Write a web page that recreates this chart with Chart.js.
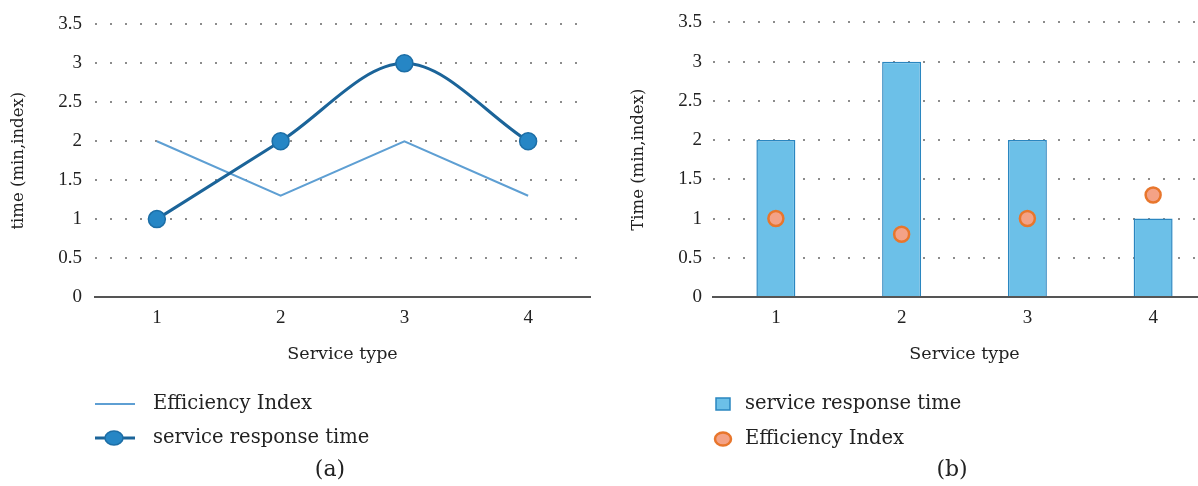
<!DOCTYPE html>
<html>
<head>
<meta charset="utf-8">
<script src="https://cdn.jsdelivr.net/npm/chart.js@4/dist/chart.umd.min.js"></script>
<style>
  html, body { margin: 0; padding: 0; background: #fff; overflow: hidden; }
  body { width: 1198px; height: 486px; position: relative; }
  canvas { position: absolute; top: 0; }
  #chartA { left: 0; }
  #chartB { left: 620px; }
</style>
</head>
<body>
<canvas id="chartA" width="600" height="486"></canvas>
<canvas id="chartB" width="606" height="486"></canvas>
<script>
// Service types on the x axis
const serviceTypes = ['1', '2', '3', '4'];
// Y-axis tick values
const yTickValues = [0, 0.5, 1, 1.5, 2, 2.5, 3, 3.5];

// Panel (a): line chart
const efficiencyIndexA = [2, 1.3, 2, 1.3];
const responseTimeA = [1, 2, 3, 2];

// Panel (b): bars + markers
const responseTimeB = [2, 3, 2, 1];
const efficiencyIndexB = [1, 0.8, 1, 1.3];

const SERIF = '"DejaVu Serif", "Liberation Serif", serif';
const TICK_FONT = '"Liberation Serif", "DejaVu Serif", serif';
const TEXT = '#222222';

const gridColor = '#8c8c8c';

function yScale(width, pad, title) {
  return {
    min: 0, max: 3.5,
    afterBuildTicks: s => { s.ticks = yTickValues.map(v => ({ value: v })); },
    afterFit: s => { s.width = width; },
    grid: { color: gridColor, lineWidth: 2, drawTicks: false },
    border: { display: false, dash: [2, 13] },
    ticks: { color: TEXT, padding: pad, font: { family: TICK_FONT, size: 19 },
             callback: v => String(v) },
    title: { display: true, text: title, color: TEXT, padding: { top: 9 },
             font: { family: SERIF, size: 16.5 } }
  };
}

function xScale() {
  return {
    offset: true,
    afterFit: s => { s.height = 72; },
    grid: { display: false, drawTicks: false, offset: true },
    border: { display: true, color: '#555555', width: 2 },
    ticks: { color: TEXT, padding: 10, font: { family: TICK_FONT, size: 19 } },
    title: { display: true, text: 'Service type', color: TEXT, padding: { top: 0, bottom: 4 },
             font: { family: SERIF, size: 17.5 } }
  };
}

// Draws the stacked legend rows and the panel caption under the plot
function legendPlugin(rows, caption, captionX) {
  return {
    id: 'panelLegend',
    afterDraw(chart) {
      const ctx = chart.ctx;
      ctx.save();
      ctx.font = '19.5px ' + SERIF;
      ctx.fillStyle = TEXT;
      ctx.textBaseline = 'middle';
      rows.forEach(r => {
        const ds = chart.data.datasets[r.dataset];
        r.marker(ctx, ds, r.y);
        ctx.fillStyle = TEXT;
        ctx.textAlign = 'left';
        ctx.fillText(ds.label, r.textX, r.y);
      });
      ctx.font = '22px ' + SERIF;
      ctx.textAlign = 'center';
      ctx.fillStyle = TEXT;
      ctx.fillText(caption, captionX, 470);
      ctx.restore();
    }
  };
}

// ---------- Panel (a) ----------
new Chart(document.getElementById('chartA'), {
  type: 'line',
  data: {
    labels: serviceTypes,
    datasets: [
      {
        label: 'Efficiency Index',
        data: efficiencyIndexA,
        borderColor: '#5e9fd3',
        borderWidth: 2,
        pointRadius: 0,
        tension: 0,
        order: 1
      },
      {
        label: 'service response time',
        data: responseTimeA,
        borderColor: '#1b6499',
        borderWidth: 3,
        cubicInterpolationMode: 'monotone',
        pointRadius: 8.5,
        pointBackgroundColor: '#2686c5',
        pointBorderColor: '#1d6ea6',
        pointBorderWidth: 1.5,
        order: 0
      }
    ]
  },
  options: {
    responsive: false,
    animation: false,
    layout: { padding: { top: 22, left: 0, right: 4, bottom: 117 } },
    plugins: { legend: { display: false }, tooltip: { enabled: false } },
    scales: { x: xScale(), y: yScale(95, 13, 'time (min,index)') }
  },
  plugins: [legendPlugin([
    { dataset: 0, y: 404, textX: 153, marker: (ctx, ds, y) => {
        ctx.strokeStyle = ds.borderColor; ctx.lineWidth = ds.borderWidth;
        ctx.beginPath(); ctx.moveTo(95, y); ctx.lineTo(135, y); ctx.stroke();
      } },
    { dataset: 1, y: 438, textX: 153, marker: (ctx, ds, y) => {
        ctx.strokeStyle = ds.borderColor; ctx.lineWidth = ds.borderWidth;
        ctx.beginPath(); ctx.moveTo(95, y); ctx.lineTo(135, y); ctx.stroke();
        ctx.fillStyle = ds.pointBackgroundColor; ctx.strokeStyle = ds.pointBorderColor;
        ctx.lineWidth = ds.pointBorderWidth;
        ctx.beginPath(); ctx.ellipse(114, y, 9, 7, 0, 0, Math.PI * 2); ctx.fill(); ctx.stroke();
      } }
  ], '(a)', 330)]
});

// ---------- Panel (b) ----------
new Chart(document.getElementById('chartB'), {
  data: {
    labels: serviceTypes,
    datasets: [
      {
        type: 'bar',
        label: 'service response time',
        data: responseTimeB,
        backgroundColor: '#6cc0e8',
        borderColor: '#2a86c0',
        borderWidth: 1.5,
        barPercentage: 0.31,
        categoryPercentage: 1,
        order: 1
      },
      {
        type: 'line',
        label: 'Efficiency Index',
        data: efficiencyIndexB,
        showLine: false,
        pointRadius: 7.5,
        pointBackgroundColor: '#f4a286',
        pointBorderColor: '#e8762c',
        pointBorderWidth: 2.5,
        order: 0
      }
    ]
  },
  options: {
    responsive: false,
    animation: false,
    layout: { padding: { top: 22, left: 0, right: 0, bottom: 117 } },
    plugins: { legend: { display: false }, tooltip: { enabled: false } },
    scales: { x: xScale(), y: yScale(93, 11, 'Time (min,index)') }
  },
  plugins: [legendPlugin([
    { dataset: 0, y: 404, textX: 125, marker: (ctx, ds, y) => {
        ctx.fillStyle = ds.backgroundColor; ctx.strokeStyle = ds.borderColor; ctx.lineWidth = 1.5;
        ctx.fillRect(96, y - 6, 14, 12); ctx.strokeRect(96, y - 6, 14, 12);
      } },
    { dataset: 1, y: 439, textX: 125, marker: (ctx, ds, y) => {
        ctx.fillStyle = ds.pointBackgroundColor; ctx.strokeStyle = ds.pointBorderColor;
        ctx.lineWidth = ds.pointBorderWidth;
        ctx.beginPath(); ctx.ellipse(103, y, 8, 6.5, 0, 0, Math.PI * 2); ctx.fill(); ctx.stroke();
      } }
  ], '(b)', 332)]
});
</script>
</body>
</html>
